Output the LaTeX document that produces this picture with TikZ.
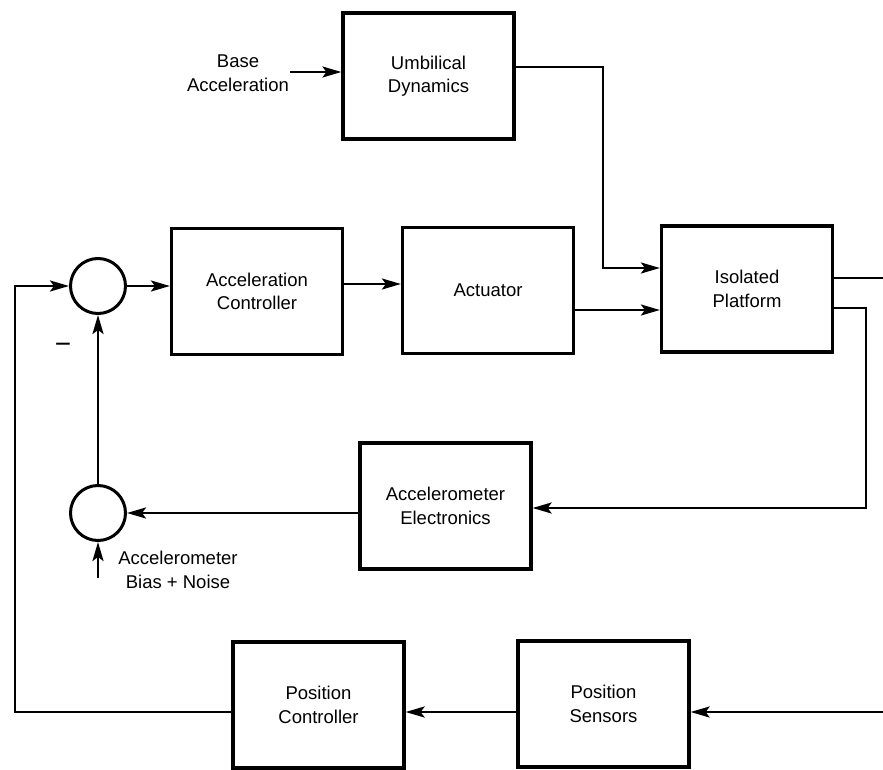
\documentclass[tikz,border=0pt]{standalone}
\usepackage{fontspec}
\setmainfont{Liberation Sans}
\usetikzlibrary{arrows.meta}
\begin{document}
\begin{tikzpicture}[x=1pt,y=-1pt,
  blk/.style={draw, line width=3.2pt, minimum width=171pt, minimum height=126pt, inner sep=0pt, align=center, font=\fontsize{18.5}{23.5}\selectfont},
  sumj/.style={draw, circle, line width=3pt, minimum size=55pt, inner sep=0pt},
  lbl/.style={align=center, font=\fontsize{18.5}{23.5}\selectfont, inner sep=1pt},
  wire/.style={line width=2.5pt},
  arr/.style={wire, -{Stealth[length=19pt,width=11pt,inset=4pt]}},
]
\useasboundingbox (0,0) rectangle (883,770);
\node[blk] (UD) at (428.5,76) {Umbilical\\Dynamics};
\node[blk] (AC) at (257,291.5) {Acceleration\\Controller};
\node[blk] (ACT) at (488,290.5) {Actuator};
\node[blk] (IP) at (747,289) {Isolated\\Platform};
\node[blk] (AE) at (445.5,506) {Accelerometer\\Electronics};
\node[blk] (PC) at (318.5,705) {Position\\Controller};
\node[blk] (PS) at (603.5,704) {Position\\Sensors};
\node[sumj] (S1) at (98,286) {};
\node[sumj] (S2) at (98,513) {};
\node[lbl] (BA) at (238,73) {Base\\Acceleration};
\node[lbl] (AN) at (178,570) {Accelerometer\\Bias + Noise};
\node[lbl, font=\fontsize{28}{28}\selectfont] (MI) at (63,348) {−};
\coordinate (BIn) at (98,578);
\coordinate (IPo) at (883,278);
\coordinate (PSi) at (883,712);
\coordinate (J1) at (603,268);
\coordinate (K) at (866,508);
\coordinate (L) at (15,712);
\draw[arr] (BA.east |- 0,72) -- (UD.west |- 0,72);
\draw[arr] (UD.east |- 0,67) -| (J1) -- (IP.west |- J1);
\draw[arr] (S1.east) -- (AC.west |- S1.east);
\draw[arr] (AC.east |- 0,284) -- (ACT.west |- 0,284);
\draw[arr] (ACT.east |- 0,310) -- (IP.west |- 0,310);
\draw[wire] (IP.east |- IPo) -- (IPo);
\draw[arr] (IP.east |- 0,308) -| (K) -- (AE.east |- K);
\draw[arr] (AE.west |- S2.east) -- (S2.east);
\draw[arr] (S2.north) -- (S1.south);
\draw[arr] (BIn) -- (S2.south);
\draw[arr] (PSi) -- (PS.east |- PSi);
\draw[arr] (PS.west |- PSi) -- (PC.east |- PSi);
\draw[arr] (PC.west |- L) -- (L) |- (S1.west);
\end{tikzpicture}
\end{document}
